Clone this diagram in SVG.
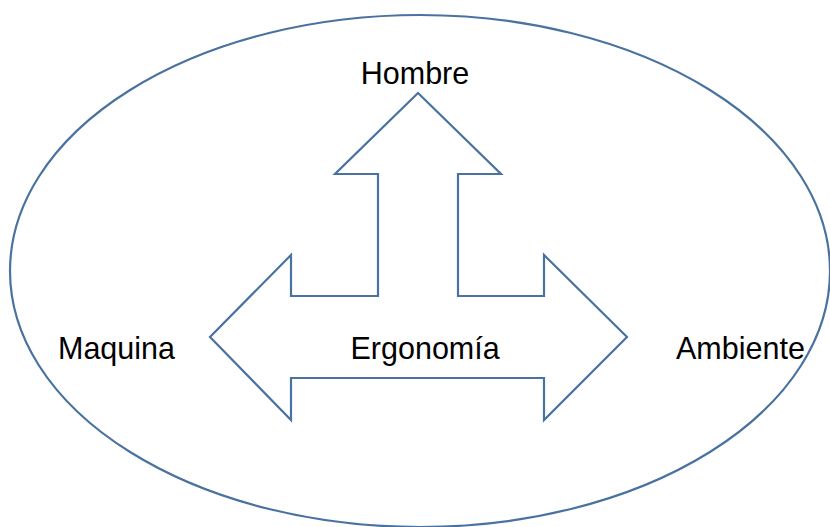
<svg xmlns="http://www.w3.org/2000/svg" width="830" height="527" viewBox="0 0 830 527">
<style>
.shape{fill:none;stroke:#4a72a0;stroke-width:2.2;stroke-linejoin:miter}
.lbl{font-family:"Liberation Sans",Arial,sans-serif;font-size:30.5px;fill:#000}
</style>
<rect width="830" height="527" fill="#fff"/>
<g id="ellipse">
<ellipse class="shape" cx="420" cy="271" rx="410" ry="256"/>
</g>
<g id="arrows">
<path class="shape" d="M418,93 L501,174 L458,174 L458,296 L544,296 L544,255 L627,337 L544,420 L544,378 L291,378 L291,420 L210,337 L291,255 L291,296 L378,296 L378,174 L335,174 Z"/>
</g>
<g id="hombre"><text class="lbl" x="415" y="84" text-anchor="middle">Hombre</text></g>
<g id="maquina"><text class="lbl" x="58" y="359">Maquina</text></g>
<g id="ergonomia"><text class="lbl" x="350.5" y="359">Ergonomía</text></g>
<g id="ambiente"><text class="lbl" x="676" y="359">Ambiente</text></g>
</svg>
